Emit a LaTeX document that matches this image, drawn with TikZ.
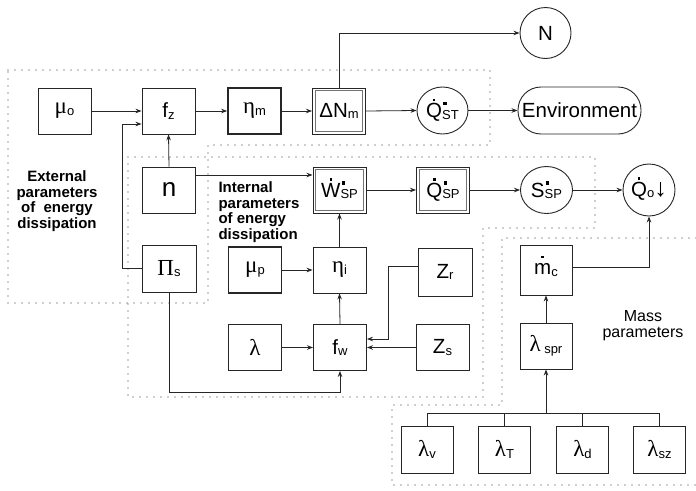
\documentclass[tikz,border=0pt]{standalone}
\usepackage{fontspec}
\setmainfont{Liberation Sans}
\newfontfamily\grk{Liberation Serif}[Scale=1.12]
\usetikzlibrary{shapes.geometric,arrows.meta}
\newcommand\G[1]{{\grk #1}}
\newcommand\sbs[1]{\raisebox{-1.5pt}{\fontsize{13}{13}\selectfont #1}}
\newcommand\lab[2]{#1\sbs{#2}}
\newcommand\dt[1]{{\ooalign{#1\cr\hidewidth\raisebox{0.8em}{\rule{2.6pt}{2.6pt}}\hidewidth\cr}}}
\newcommand\bsub[1]{\rlap{\kern1.2pt\raisebox{12.5pt}{\rule{3.3pt}{3.3pt}}}\sbs{#1}}
\tikzset{
 box/.style={draw=black!85, line width=0.9pt, minimum width=53pt, minimum height=46pt, inner sep=0pt, font=\fontsize{20.5}{22}\selectfont},
 tbox/.style={box, line width=1.7pt},
 dbox/.style={box, outer sep=0.5pt},
 ell/.style={box, ellipse, minimum width=51pt, minimum height=47pt},
 circ/.style={box, circle, minimum size=51pt},
 arr/.style={draw=black!85, line width=0.8pt, -{Stealth[length=6pt,width=4.5pt]}},
 con/.style={draw=black!85, line width=0.8pt},
 region/.style={draw=black!80, line width=1.3pt, dash pattern=on 0pt off 7pt, line cap=round},
 grouplab/.style={font=\bfseries\fontsize{15}{15.5}\selectfont},
}
\begin{document}
\begin{tikzpicture}[x=1pt,y=-1pt]
\useasboundingbox[fill=white] (0,0) rectangle (696,490);
% dotted regions
\draw[region] (8,70) -- (490,70) -- (490,145) -- (208,145) -- (208,303) -- (8,303) -- cycle;
\draw[region] (128,157) -- (595,157) -- (595,228) -- (483,228) -- (483,397) -- (128,397) -- cycle;
\draw[region] (696,238) -- (502,238) -- (502,405) -- (392,405) -- (392,485) -- (696,485);
% nodes row 1
\node[box]  (mu0)  at (64.5,111) {\lab{\G{μ}}{o}};
\node[box]  (fz)   at (168.5,111) {\lab{f}{z}};
\node[tbox] (etam) at (254.5,111) {\lab{\G{η}}{m}};
\node[dbox] (dN)   at (339,111) {\lab{ΔN}{m}};
\node[ell]  (QST)  at (442.5,110.5) {\dt{Q}\bsub{ST}};
\node[box, rounded corners=23pt, minimum width=123pt, minimum height=47pt] (Env) at (579.5,110.5) {Environment};
\node[circ] (N) at (545.5,33) {N};
% row 2
\node[box, font=\fontsize{26}{26}\selectfont]  (n) at (169,190) {n};
\node[box, minimum width=54pt, minimum height=47pt] (Pis) at (169,268.5) {\lab{\G{Π}}{s}};
\node[dbox] (Wsp)  at (339.5,190) {\dt{W}\bsub{SP}};
\node[dbox] (Qsp)  at (443,190) {\dt{Q}\bsub{SP}};
\node[ell, minimum width=52pt] (Ssp) at (546.5,190) {S\bsub{SP}};
\node[circ, minimum size=52pt] (Qo) at (649,190) {\dt{Q}\sbs{o}{\fontsize{25}{25}\selectfont ↓}};
% row 3
\node[tbox] (mup)  at (255,270) {\lab{\G{μ}}{p}};
\node[box]  (etai) at (339.5,270) {\lab{\G{η}}{i}};
\node[box, minimum width=54pt, minimum height=48pt] (zr) at (445,272) {\lab{Z}{r}};
\node[box, minimum width=52pt, minimum height=50pt] (mc) at (546,270) {\dt{m}\sbs{c}};
% row 4
\node[tbox] (lam)  at (255,347.5) {\G{λ}};
\node[box]  (fw)   at (340,347.5) {\lab{f}{w}};
\node[box]  (zs)   at (442.5,347.5) {\lab{Z}{s}};
\node[box, minimum width=52pt] (lspr) at (546,346) {\G{λ}\,\sbs{spr}};
% row 5
\node[box, minimum width=52pt, minimum height=47pt] (lv)  at (427,449.5) {\lab{\G{λ}}{v}};
\node[box, minimum width=52pt, minimum height=47pt] (lT)  at (504.5,449.5) {\lab{\G{λ}}{T}};
\node[box, minimum width=52pt, minimum height=47pt] (ld)  at (582.5,449.5) {\lab{\G{λ}}{d}};
\node[box, minimum width=52pt, minimum height=47pt] (lsz) at (659.5,449.5) {\lab{\G{λ}}{sz}};
% inner frames of double boxes
\foreach \b in {dN,Wsp,Qsp}{
  \draw[black!55, line width=1pt] ([shift={(3.2pt,3.2pt)}]\b.south west) rectangle ([shift={(-3.2pt,-3.2pt)}]\b.north east);
}
% group labels
\node[grouplab, align=center] (extlab) at (57,201) {External\\parameters\\of~ energy\\dissipation};
\node[grouplab, align=left, anchor=west] (intlab) at (215,212) {Internal\\parameters\\of energy\\dissipation};
\node[font=\fontsize{16}{16}\selectfont, align=center] (masslab) at (643,326) {Mass\\parameters};
% connectors
\coordinate (c1) at (122,124);
\coordinate (c2) at (0,392);
\coordinate (bus) at (0,413);
\draw[arr] (mu0.east) -- (fz.west |- mu0.east);
\draw[arr] (Pis.west) -| (c1) -- (c1 -| fz.west);
\draw[arr] (n.north) -- (fz.south);
\draw[arr] (fz.east) -- (etam.west);
\draw[arr] (etam.east) -- (dN.west);
\draw[arr] (dN.north) |- (N.west);
\draw[arr] (dN.east) -- (QST.west);
\draw[arr] (QST.east) -- (Env.west);
\draw[arr] ([yshift=15pt]n.east) -- ([yshift=15pt]n.east -| Wsp.west);
\draw[arr] (Wsp.east) -- (Qsp.west);
\draw[arr] (Qsp.east) -- (Ssp.west);
\draw[arr] (Ssp.east) -- (Qo.west);
\draw[arr] (mup.east) -- (etai.west);
\draw[arr] (etai.north) -- (Wsp.south);
\draw[arr] (fw.north) -- (etai.south);
\draw[arr] ([yshift=6pt]zr.west) -- ++(-29,0) |- ([yshift=8.5pt]fw.east);
\draw[arr] (zs.west) -- (fw.east);
\draw[arr] (lam.east) -- (fw.west);
\draw[arr] (Pis.south) -- (Pis.south |- c2) -| (fw.south);
\draw[arr] ([yshift=3pt]mc.east) -| (Qo.south);
\draw[arr] (lspr.north) -- (mc.south);
\draw[con] (lv.north) -- (lv.north |- bus) -- (lsz.north |- bus) -- (lsz.north);
\draw[con] (lT.north) -- (lT.north |- bus);
\draw[con] (ld.north) -- (ld.north |- bus);
\draw[arr] (lspr.south |- bus) -- (lspr.south);
\end{tikzpicture}
\end{document}
